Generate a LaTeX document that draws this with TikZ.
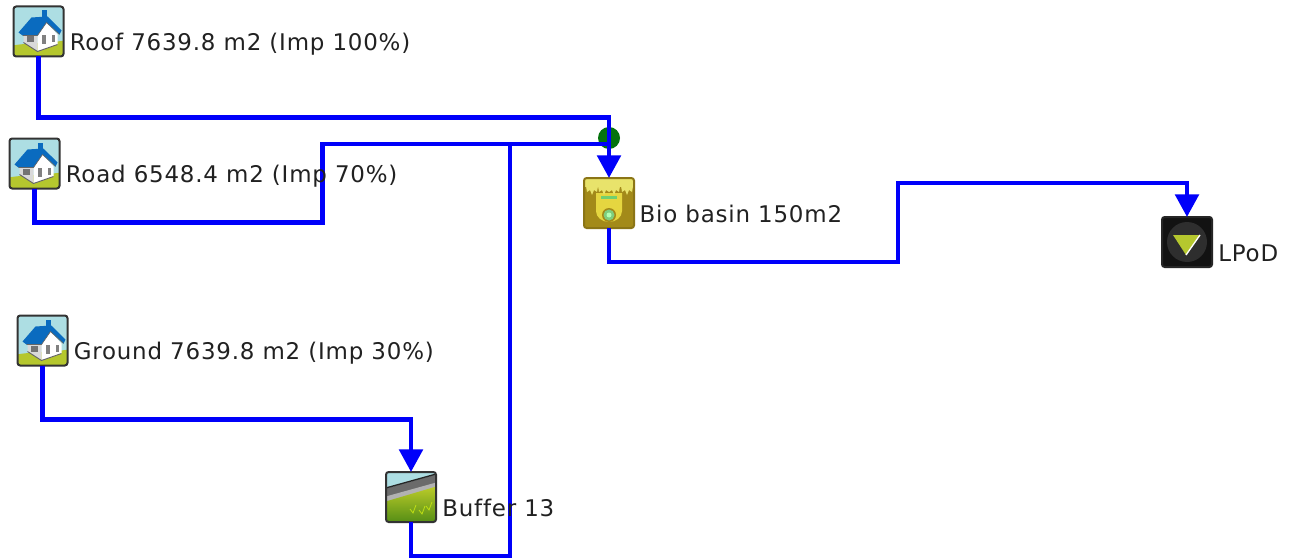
\documentclass[tikz,border=0pt]{standalone}
\usepackage{fontspec}
\setmainfont{DejaVu Sans}
\newfontfamily\tagfont[LetterSpace=3.5,Ligatures=NoCommon]{DejaVu Sans}
\usetikzlibrary{positioning,arrows.meta,shadings}

\definecolor{FlowBlue}{rgb}{0,0,0.98}
\definecolor{JoinGreen}{rgb}{0.02,0.45,0.05}
\definecolor{SkyBlue}{rgb}{0.68,0.87,0.89}
\definecolor{MeadowGreen}{rgb}{0.71,0.78,0.18}
\definecolor{RoofBlue}{rgb}{0.04,0.42,0.75}
\definecolor{BasinOlive}{rgb}{0.64,0.54,0.10}
\definecolor{BasinYellow}{rgb}{0.91,0.89,0.42}
\definecolor{PitYellow}{rgb}{0.90,0.84,0.25}
\definecolor{TagInk}{rgb}{0.13,0.13,0.13}

\tikzset{
	iconBox/.style={
		draw=black!80,
		line width=1.5pt,
		rounded corners=2pt,
		minimum size=37.5pt,
		inner sep=0,
		outer sep=0pt,
	},
	iconInner/.style={
		shift={(path picture bounding box.center)},
		sharp corners,
	},
	houseIcon/.style={
		iconBox,
		fill=SkyBlue,
		path picture={
			\begin{scope}[iconInner]
				\fill[MeadowGreen] (-26,14) .. controls (-8,11) and (8,12) .. (26,9) -- (26,26) -- (-26,26) -- cycle;
				\fill[black!15] (-15,4) -- (-1,4) -- (-1,20) -- (-15,11) -- cycle;
				\fill[white] (-1,4) -- (8,-9) -- (19,3) -- (19,13) -- (-1,20) -- cycle;
				\fill[black!55] (-12,5) rectangle (-5,11);
				\fill[black!50] (3,4) rectangle (7,13);
				\fill[black!50] (13,4) rectangle (16,11);
				\draw[black!60,line width=0.7pt] (-15,11) -- (-1,20) -- (19,13);
				\fill[RoofBlue] (3,-21) rectangle (8,-13);
				\fill[RoofBlue] (-20,1) -- (-7,-14) -- (9,-15) -- (23,-1) -- (21,3) -- (8,-9) -- (-1,4) -- (-16,4) -- cycle;
				\draw[black!60,line width=0.5pt] (-16,4) -- (-1,4) -- (8,-9) -- (21,3);
			\end{scope}
		},
	},
	basinIcon/.style={
		iconBox,
		draw=BasinOlive!85!black,
		fill=BasinOlive,
		path picture={
			\begin{scope}[iconInner]
				\fill[PitYellow] (-13,-10) -- (13,-10) -- (13,8) arc (0:180:13 and 11) -- cycle;
				\fill[BasinYellow] (-26,-26) rectangle (26,-16);
				\foreach \px in {-17,-5,5,18} {
					\fill[BasinYellow] (\px-6,-17) -- (\px-5,-11) -- (\px-2,-13) -- (\px,-8) -- (\px+2,-13) -- (\px+5,-11) -- (\px+6,-17) -- cycle;
				}
				\fill[green!50!gray!75] (-8,-7) rectangle (8,-4.5);
				\fill[BasinOlive] (0,12) circle (7);
				\fill[green!45!gray!70] (0,12) circle (5.5);
				\fill[green!30!white] (0,12) circle (2.5);
			\end{scope}
		},
	},
	bufferIcon/.style={
		iconBox,
		fill=SkyBlue,
		path picture={
			\begin{scope}[iconInner]
				\fill[black!58] (-27,-8) -- (27,-23) -- (27,-11) -- (-27,4) -- cycle;
				\fill[black!30] (-27,0) -- (27,-15) -- (27,-9) -- (-27,6) -- cycle;
				\draw[black!85,line width=1pt] (-27,-8.5) -- (27,-23.5);
				\shade[top color=MeadowGreen!90!yellow,bottom color=MeadowGreen!55!black!80!green] (-27,5) -- (27,-11) -- (27,27) -- (-27,27) -- cycle;
				\foreach \gx/\gy in {2/12,11/13,18/9} {
					\draw[yellow!75!green,line width=0.6pt] (\gx-3,\gy) -- (\gx,\gy+4) -- (\gx+3,\gy-4);
				}
			\end{scope}
		},
	},
	outletIcon/.style={
		iconBox,
		draw=black!85,
		fill=black!93,
		path picture={
			\begin{scope}[iconInner]
				\fill[black!82] (0,0) circle (20);
				\fill[MeadowGreen] (-14,-7) -- (13,-7) -- (-1,13) -- cycle;
				\draw[white,line width=1pt] (13,-7) -- (-1,13);
			\end{scope}
		},
	},
	joinDot/.style={
		circle,
		fill=JoinGreen,
		minimum size=16.5pt,
		inner sep=0,
		outer sep=0pt,
	},
	flowLine/.style={
		draw=FlowBlue,
		line width=3.4pt,
		line join=miter,
	},
	flowArrow/.style={
		flowLine,
		-{Triangle[width=17.5pt,length=17pt]},
	},
	iconTag/.style={
		anchor=base west,
		inner sep=0,
		text=TagInk,
		font=\tagfont\fontsize{17.2pt}{20pt}\selectfont,
	},
}

\begin{document}
\begin{tikzpicture}[x=0.75pt,y=-0.75pt]

	\useasboundingbox[fill=white] (0,0) rectangle (1292,560);

	% Icons
	\node[houseIcon] (roof) at (38.5,31.5) {};
	\node[houseIcon] (road) at (34.5,163.5) {};
	\node[houseIcon] (ground) at (42.5,340.5) {};
	\node[bufferIcon] (buffer) at (411,497) {};
	\node[basinIcon] (basin) at (609,203) {};
	\node[outletIcon] (lpod) at (1187,242) {};

	% Junction
	\node[joinDot] (junction) at (609,138) {};
	\coordinate (merge) at (609,144);

	% Connectors
	\draw[flowArrow] (roof.south) -- ++(0,61) -| (basin.north);
	\draw[flowLine] (road.south) -- ++(0,34) -- ++(288,0) |- (merge);
	\draw[flowArrow] (ground.south) -- ++(0,54) -| (buffer.north);
	\draw[flowLine] (buffer.south) -- ++(0,34) -- ++(99,0) |- (merge);
	\draw[flowArrow] (basin.south) -- ++(0,34) -- ++(289,0) |- ++(289,-79) -- (lpod.north);

	% Labels
	\node[iconTag] (roofTag) at ([xshift=4.5pt,yshift=4.5pt]roof.south east) {Roof 7639.8 m2 (Imp 100\%)};
	\node[iconTag] (roadTag) at ([xshift=4.5pt,yshift=4.5pt]road.south east) {Road 6548.4 m2 (Imp 70\%)};
	\node[iconTag] (groundTag) at ([xshift=4.5pt,yshift=4.5pt]ground.south east) {Ground 7639.8 m2 (Imp 30\%)};
	\node[iconTag] (bufferTag) at ([xshift=4.5pt,yshift=4.5pt]buffer.south east) {Buffer 13};
	\node[iconTag] (basinTag) at ([xshift=4pt,yshift=4.5pt]basin.south east) {Bio basin 150m2};
	\node[iconTag] (lpodTag) at ([xshift=4.5pt,yshift=4.5pt]lpod.south east) {LPoD};

\end{tikzpicture}
\end{document}
